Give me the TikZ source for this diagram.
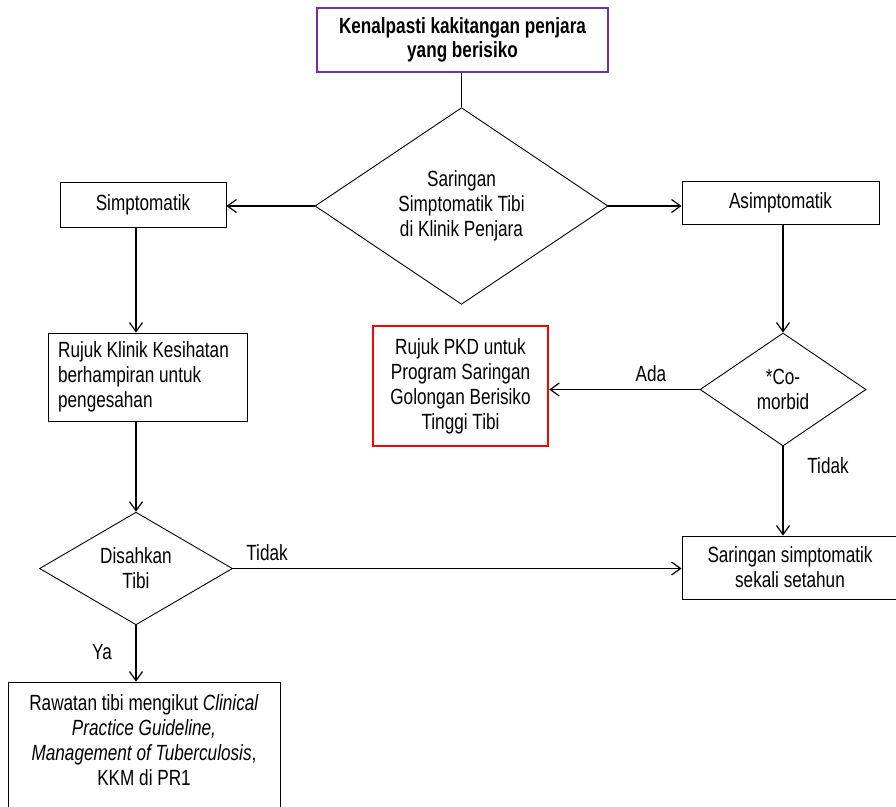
\documentclass[tikz,border=0pt]{standalone}
\usepackage{fontspec}
\setmainfont[FakeStretch=0.78]{Liberation Sans}
\usetikzlibrary{shapes.geometric,arrows.meta}
\definecolor{boxpurple}{HTML}{7030A0}
\definecolor{boxred}{HTML}{FF0000}
\begin{document}
\begin{tikzpicture}[x=1pt,y=-1pt,
  every node/.style={font=\fontsize{22}{25}\selectfont, inner sep=0pt},
  box/.style={draw=black, line width=0.9pt, rectangle, align=center},
  dec/.style={draw=black, line width=0.9pt, diamond, align=center},
  arr/.style={line width=1.2pt, -{Straight Barb[length=9pt,width=13pt,line width=1.2pt]}},
  link/.style={line width=1.2pt}]
\useasboundingbox (0,0) rectangle (896,806);
\fill[white] (0,0) rectangle (896,806);
\clip (0,0) rectangle (896,806);

\node[box, draw=boxpurple, line width=2.2pt, minimum width=291pt, minimum height=64pt,
      font=\bfseries\fontsize{22}{24}\selectfont] (top) at (462.5,40) {Kenalpasti kakitangan penjara\\yang berisiko};
\node[dec, minimum width=293pt, minimum height=172pt] (d1) at (461.5,206) {Saringan\\Simptomatik Tibi\\di Klinik Penjara};
\node[box, minimum width=166pt, minimum height=45pt] (simp) at (143,204.5) {Simptomatik};
\node[box, minimum width=197pt, minimum height=43pt] (asimp) at (780.5,202.5) {Asimptomatik};
\node[box, minimum width=199pt, minimum height=88pt, align=left] (rujuk) at (147.5,377)
  {Rujuk Klinik Kesihatan\hspace*{8pt}\\berhampiran untuk\\pengesahan};
\node[box, draw=boxred, line width=2.5pt, minimum width=175pt, minimum height=120pt] (pkd) at (460.5,386)
  {Rujuk PKD untuk\\Program Saringan\\Golongan Berisiko\\Tinggi Tibi};
\node[dec, minimum width=166pt, minimum height=113pt] (d2) at (783,389.5) {*Co-\\morbid};
\node[dec, minimum width=193pt, minimum height=107pt] (d3) at (136,568.5) {Disahkan\\Tibi};
\node[box, minimum width=216pt, minimum height=63pt] (sar) at (790,567.5) {Saringan simptomatik\\sekali setahun};
\node[box, minimum width=272pt, minimum height=158pt] (raw) at (144,761) {};
\node[align=center] (rawt) at (144,740)
  {Rawatan tibi mengikut \textit{Clinical}\\\textit{Practice Guideline,}\\\textit{Management of Tuberculosis},\\KKM di PR1};

\draw[link] (top.south -| d1.north) -- (d1.north);
\draw[arr] (d1.west) -- (d1.west -| simp.east);
\draw[arr] (d1.east) -- (d1.east -| asimp.west);
\draw[arr] (simp.south -| d3.north) -- (rujuk.north -| d3.north);
\draw[arr] (rujuk.south -| d3.north) -- (d3.north);
\draw[arr] (d3.south) -- (d3.south |- raw.north);
\draw[arr] (d3.east) -- (d3.east -| sar.west);
\draw[arr] (asimp.south -| d2.north) -- (d2.north);
\draw[arr] (d2.west) -- (d2.west -| pkd.east);
\draw[arr] (d2.south) -- (d2.south |- sar.north);

\node (ya) at (102,652) {Ya};
\node (tidak1) at (267,553) {Tidak};
\node (ada) at (651,374) {Ada};
\node (tidak2) at (828,466) {Tidak};
\end{tikzpicture}
\end{document}
